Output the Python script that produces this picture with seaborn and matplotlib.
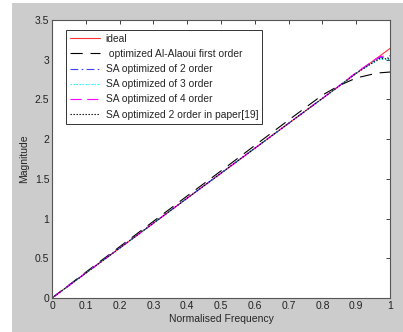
import numpy as np
import pandas as pd
import matplotlib
matplotlib.use("Agg")
import matplotlib.pyplot as plt
from matplotlib.patches import Rectangle
import seaborn as sns

# values
freq = [0.0, 0.1, 0.2, 0.3, 0.4, 0.5, 0.6, 0.7, 0.8, 0.85, 0.9, 0.95, 0.97, 1.0]
ideal = [0.0, 0.314, 0.628, 0.942, 1.257, 1.571, 1.885, 2.199, 2.513, 2.670, 2.827, 2.985, 3.047, 3.142]
al_alaoui = [0.0, 0.325, 0.645, 0.965, 1.285, 1.600, 1.920, 2.240, 2.555, 2.675, 2.770, 2.820, 2.835, 2.845]
sa2 = [0.0, 0.314, 0.628, 0.942, 1.257, 1.571, 1.885, 2.199, 2.513, 2.672, 2.835, 2.975, 3.030, 3.020]
sa3 = [0.0, 0.314, 0.628, 0.942, 1.257, 1.571, 1.885, 2.199, 2.513, 2.670, 2.830, 2.960, 3.005, 3.000]
sa4 = [0.0, 0.314, 0.628, 0.942, 1.257, 1.571, 1.885, 2.199, 2.513, 2.672, 2.838, 2.985, 3.040, 3.050]
paper19 = [0.0, 0.314, 0.628, 0.942, 1.257, 1.571, 1.885, 2.199, 2.513, 2.670, 2.830, 2.965, 3.015, 3.010]

labels = ["ideal", " optimized Al-Alaoui first order", "SA optimized of 2 order",
          "SA optimized of 3 order", "SA optimized of 4 order",
          "SA optimized 2 order in paper[19]"]
series = [ideal, al_alaoui, sa2, sa3, sa4, paper19]
colors = ["#ff3333", "black", "#4040ff", "cyan", "magenta", "black"]
styles = ["-", (0, (11, 7)), (0, (7, 3, 1.5, 3)), (0, (1.2, 1.5)), (0, (10, 5)), (0, (1.2, 1.5))]

sns.set_style("white")
plt.rcParams['font.family'] = ['Liberation Sans', 'DejaVu Sans']

fig = plt.figure(figsize=(4.03, 3.32), dpi=100)
fig.patch.set_facecolor("white")
fig.patches.append(Rectangle((12 / 403, 0), 1, 329 / 332, transform=fig.transFigure,
                             facecolor="#cccccc", edgecolor="none", zorder=-10))
ax = fig.add_axes([52 / 403, 34 / 332, 338 / 403, 278 / 332])
ax.set_facecolor("white")

for lab, vals, c, ls in zip(labels, series, colors, styles):
    sns.lineplot(x=freq, y=vals, ax=ax, color=c, linestyle=ls, linewidth=0.8, label=lab)

ax.set_xlim(0, 1)
ax.set_ylim(0, 3.5)
ax.set_xticks(np.arange(0, 1.01, 0.1))
ax.set_xticklabels(["0", "0.1", "0.2", "0.3", "0.4", "0.5", "0.6", "0.7", "0.8", "0.9", "1"])
ax.set_yticks(np.arange(0, 3.51, 0.5))
ax.set_yticklabels(["0", "0.5", "1", "1.5", "2", "2.5", "3", "3.5"])
ax.tick_params(direction="in", top=True, right=True, length=3, width=0.6,
               labelsize=7.5, colors="#222222", pad=2)
for s in ax.spines.values():
    s.set_color("#555555")
    s.set_linewidth(0.8)
ax.set_xlabel("Normalised Frequency", fontsize=7.5, labelpad=2)
ax.set_ylabel("Magnitude", fontsize=7.5, labelpad=4)

leg = ax.legend(loc="upper left", bbox_to_anchor=(0.04, 0.965), borderaxespad=0,
                fontsize=7.4, handlelength=3.0, frameon=True, fancybox=False,
                labelspacing=0.5, borderpad=0.4, handletextpad=0.5)
leg.get_frame().set_edgecolor("black")
leg.get_frame().set_linewidth(0.7)

fig.savefig("out.png", dpi=100)
